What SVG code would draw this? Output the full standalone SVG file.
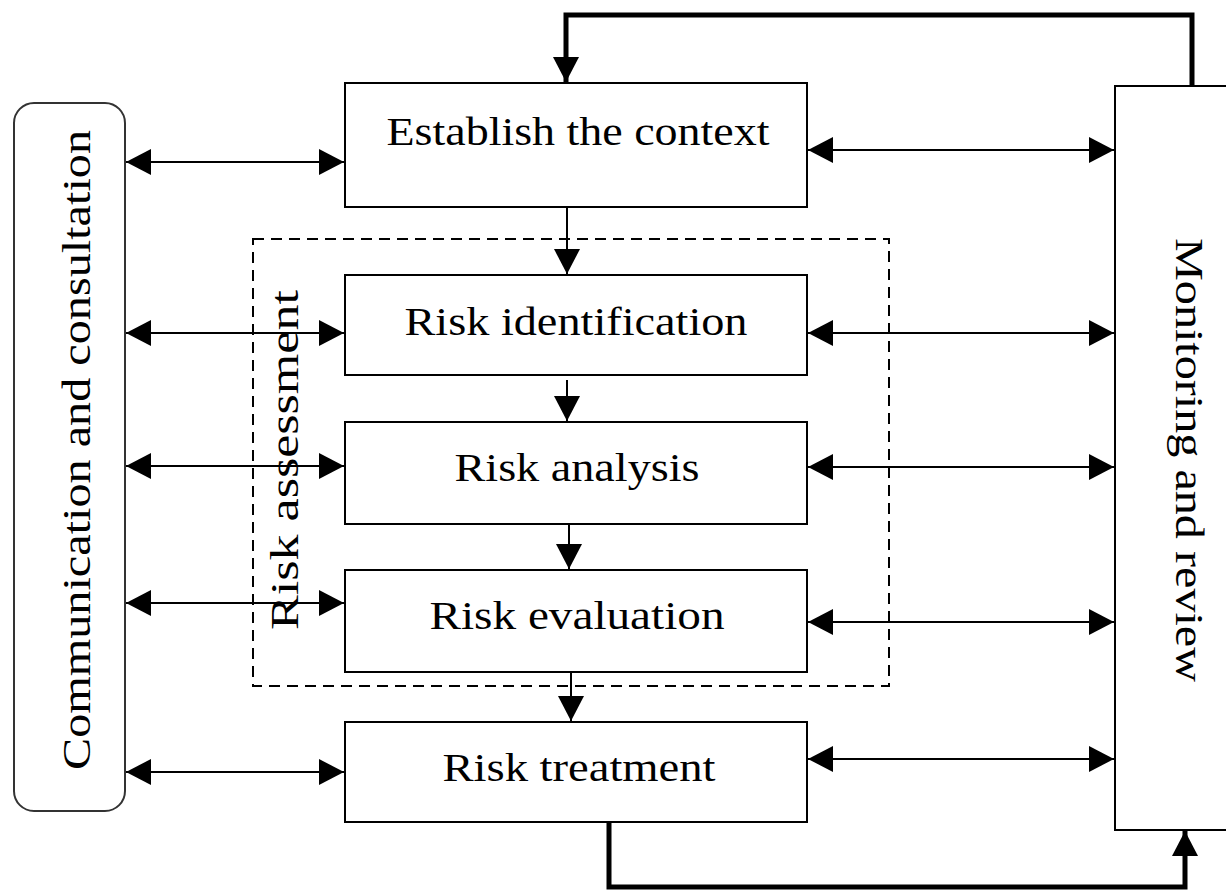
<svg xmlns="http://www.w3.org/2000/svg" width="1226" height="892" viewBox="0 0 1226 892">
<style>
.box{fill:#fff;stroke:#000;stroke-width:2}
.side{fill:#fff;stroke:#333;stroke-width:2}
.dash{fill:none;stroke:#000;stroke-width:2;stroke-dasharray:11 7}
.lbl{font-family:"Liberation Serif","Times New Roman",serif;font-size:40px;fill:#000;text-anchor:middle}
.c{fill:none;stroke:#000;stroke-width:2}
.thick{fill:none;stroke:#000;stroke-width:5}
</style>
<defs>
<marker id="ah" markerUnits="userSpaceOnUse" markerWidth="26" markerHeight="26" refX="25" refY="13" orient="auto-start-reverse">
<path d="M0,0 L25,13 L0,26 z" fill="#000"/>
</marker>
</defs>
<rect width="1226" height="892" fill="#fff"/>
<g id="risk-assessment">
<rect class="dash" x="253" y="239" width="636" height="447"/>
<text class="lbl" transform="translate(298,460) rotate(-90)" textLength="340" lengthAdjust="spacingAndGlyphs">Risk assessment</text>
</g>
<g id="communication">
<rect class="side" x="14" y="103" width="111" height="708" rx="20"/>
<text class="lbl" transform="translate(90,450) rotate(-90)" textLength="640" lengthAdjust="spacingAndGlyphs">Communication and consultation</text>
</g>
<g id="monitoring">
<rect class="box" x="1115" y="86" width="140" height="744"/>
<text class="lbl" transform="translate(1176,460) rotate(90)" textLength="444" lengthAdjust="spacingAndGlyphs">Monitoring and review</text>
</g>
<g id="establish">
<rect class="box" x="345" y="83" width="462" height="124"/>
<text class="lbl" x="578" y="145" textLength="383" lengthAdjust="spacingAndGlyphs">Establish the context</text>
</g>
<g id="identification">
<rect class="box" x="345" y="275" width="462" height="100"/>
<text class="lbl" x="576" y="335" textLength="343" lengthAdjust="spacingAndGlyphs">Risk identification</text>
</g>
<g id="analysis">
<rect class="box" x="345" y="422" width="462" height="102"/>
<text class="lbl" x="577" y="481" textLength="245" lengthAdjust="spacingAndGlyphs">Risk analysis</text>
</g>
<g id="evaluation">
<rect class="box" x="345" y="570" width="462" height="102"/>
<text class="lbl" x="577" y="629" textLength="295" lengthAdjust="spacingAndGlyphs">Risk evaluation</text>
</g>
<g id="treatment">
<rect class="box" x="345" y="722" width="462" height="100"/>
<text class="lbl" x="579" y="781" textLength="273" lengthAdjust="spacingAndGlyphs">Risk treatment</text>
</g>
<g id="connectors">
<line class="c" x1="126" y1="162" x2="344" y2="162" marker-start="url(#ah)" marker-end="url(#ah)"/>
<line class="c" x1="126" y1="333" x2="344" y2="333" marker-start="url(#ah)" marker-end="url(#ah)"/>
<line class="c" x1="126" y1="466" x2="344" y2="466" marker-start="url(#ah)" marker-end="url(#ah)"/>
<line class="c" x1="126" y1="603" x2="344" y2="603" marker-start="url(#ah)" marker-end="url(#ah)"/>
<line class="c" x1="126" y1="772" x2="344" y2="772" marker-start="url(#ah)" marker-end="url(#ah)"/>
<line class="c" x1="808" y1="150" x2="1114" y2="150" marker-start="url(#ah)" marker-end="url(#ah)"/>
<line class="c" x1="808" y1="333" x2="1114" y2="333" marker-start="url(#ah)" marker-end="url(#ah)"/>
<line class="c" x1="808" y1="467" x2="1114" y2="467" marker-start="url(#ah)" marker-end="url(#ah)"/>
<line class="c" x1="808" y1="622" x2="1114" y2="622" marker-start="url(#ah)" marker-end="url(#ah)"/>
<line class="c" x1="808" y1="759" x2="1114" y2="759" marker-start="url(#ah)" marker-end="url(#ah)"/>
<line class="c" x1="567" y1="208" x2="567" y2="274" marker-end="url(#ah)"/>
<line class="c" x1="567" y1="380" x2="567" y2="421" marker-end="url(#ah)"/>
<line class="c" x1="569" y1="525" x2="569" y2="569" marker-end="url(#ah)"/>
<line class="c" x1="571" y1="673" x2="571" y2="721" marker-end="url(#ah)"/>
<polyline class="thick" points="1192,86 1192,15 566,15 566,82" marker-end="url(#ah)"/>
<polyline class="thick" points="609,822 609,887 1185,887 1185,831" marker-end="url(#ah)"/>
</g>
</svg>
